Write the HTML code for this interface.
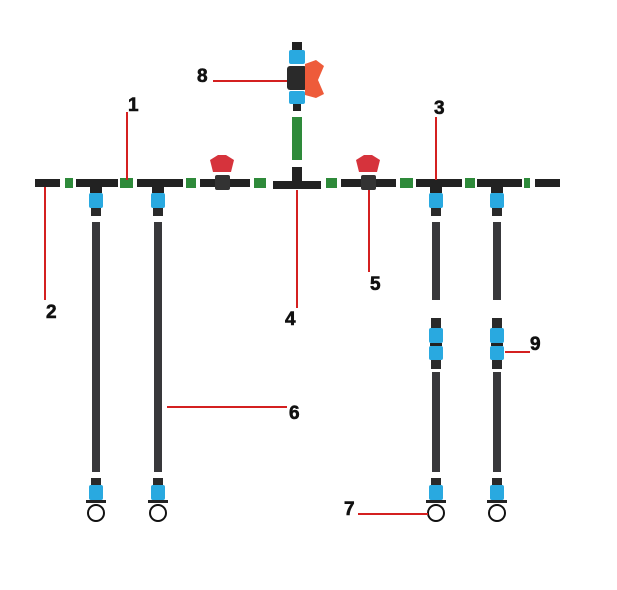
<!DOCTYPE html>
<html><head><meta charset="utf-8"><style>body{margin:0;background:#fff}svg{display:block}text{font-family:"Liberation Sans",sans-serif;font-weight:bold;font-size:19px;fill:#111;stroke:#111;stroke-width:0.6}</style></head><body>
<svg width="617" height="590" viewBox="0 0 617 590">
<defs>
<g id="drop">
<rect x="-6" y="187" width="12" height="6" fill="#222"/>
<rect x="-7" y="193" width="14" height="15" rx="2" fill="#29a9e0"/>
<rect x="-5" y="208" width="10" height="8" fill="#2a2a2a"/>
<rect x="-4" y="222" width="8" height="250" fill="#38383b"/>
<rect x="-5" y="478" width="10" height="8" fill="#2a2a2a"/>
<rect x="-7" y="485" width="14" height="15" rx="2" fill="#29a9e0"/>
<rect x="-10" y="500" width="20" height="3" fill="#222"/>
<circle cx="0" cy="513" r="8" fill="none" stroke="#111" stroke-width="2"/>
</g>
<g id="coup">
<rect x="-5" y="318" width="10" height="10" fill="#2a2a2a"/>
<rect x="-7" y="328" width="14" height="15" rx="2" fill="#29a9e0"/>
<rect x="-6" y="343" width="12" height="3" fill="#222"/>
<rect x="-7" y="346" width="14" height="14" rx="2" fill="#29a9e0"/>
<rect x="-5" y="360" width="10" height="9" fill="#2a2a2a"/>
</g>
</defs>
<g fill="#222">
<rect x="35" y="179" width="25" height="8"/>
<rect x="76" y="179" width="42" height="8"/>
<rect x="137" y="179" width="46" height="8"/>
<rect x="200" y="179" width="50" height="8"/>
<rect x="273" y="181" width="48" height="8"/>
<rect x="292" y="167" width="10" height="20"/>
<rect x="341" y="179" width="55" height="8"/>
<rect x="416" y="179" width="46" height="8"/>
<rect x="477" y="179" width="45" height="8"/>
<rect x="535" y="179" width="25" height="8"/>
</g>
<g fill="#2e8a3a">
<rect x="65" y="178" width="8" height="10"/>
<rect x="120" y="178" width="13" height="10"/>
<rect x="186" y="178" width="10" height="10"/>
<rect x="254" y="178" width="12" height="10"/>
<rect x="326" y="178" width="11" height="10"/>
<rect x="400" y="178" width="13" height="10"/>
<rect x="465" y="178" width="10" height="10"/>
<rect x="524" y="178" width="6" height="10"/>
<rect x="292" y="117" width="10" height="43"/>
</g>
<rect x="215" y="175" width="15" height="15" rx="2" fill="#333"/>
<path d="M210 160 L218 155 L226 155 L234 160 L231 172 L213 172 Z" fill="#d6333c"/>
<rect x="361" y="175" width="15" height="15" rx="2" fill="#333"/>
<path d="M356 160 L364 155 L372 155 L380 160 L377 172 L359 172 Z" fill="#d6333c"/>
<rect x="292" y="42" width="10" height="9" fill="#222"/>
<rect x="289" y="50" width="16" height="14" rx="2" fill="#29a9e0"/>
<rect x="287" y="66" width="20" height="24" rx="3" fill="#2a2a2a"/>
<path d="M305 64 L316 60 L324 66 L318 80 L324 94 L316 98 L305 95 Z" fill="#ee5b3a"/>
<rect x="289" y="91" width="16" height="13" rx="2" fill="#29a9e0"/>
<rect x="293" y="104" width="8" height="7" fill="#222"/>
<use href="#drop" x="96"/><use href="#drop" x="158"/><use href="#drop" x="436"/><use href="#drop" x="497"/>
<rect x="430" y="300" width="12" height="20" fill="#fff"/><rect x="491" y="300" width="12" height="20" fill="#fff"/>
<rect x="430" y="368" width="12" height="4" fill="#fff"/><rect x="491" y="368" width="12" height="4" fill="#fff"/>
<use href="#coup" x="436"/><use href="#coup" x="497"/>
<g stroke="#d42020" stroke-width="2">
<line x1="127" y1="112" x2="127" y2="180"/>
<line x1="45" y1="187" x2="45" y2="300"/>
<line x1="436" y1="117" x2="436" y2="180"/>
<line x1="297" y1="190" x2="297" y2="308"/>
<line x1="369" y1="190" x2="369" y2="272"/>
<line x1="167" y1="407" x2="287" y2="407"/>
<line x1="358" y1="514" x2="428" y2="514"/>
<line x1="213" y1="81" x2="287" y2="81"/>
<line x1="505" y1="352" x2="530" y2="352"/>
</g>
<text x="128" y="111">1</text>
<text x="46" y="318">2</text>
<text x="434" y="114">3</text>
<text x="285" y="325">4</text>
<text x="370" y="290">5</text>
<text x="289" y="419">6</text>
<text x="344" y="515">7</text>
<text x="197" y="82">8</text>
<text x="530" y="350">9</text>
</svg>
</body></html>
